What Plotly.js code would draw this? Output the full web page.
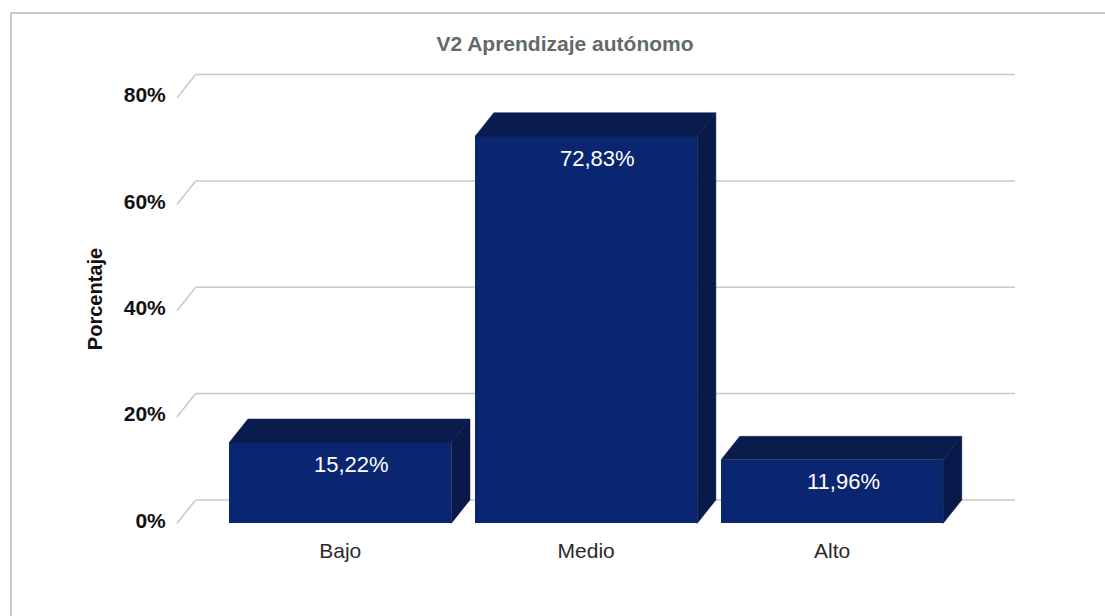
<!DOCTYPE html>
<html>
<head>
<meta charset="utf-8">
<script src="https://cdn.plot.ly/plotly-3.0.1.min.js"></script>
<style>
html,body{margin:0;padding:0;background:#fff;overflow:hidden;}
#frame{position:absolute;left:10px;top:12px;width:1200px;height:700px;border-left:2px solid #cbcbcb;border-top:2px solid #cbcbcb;box-sizing:border-box;pointer-events:none;}
#chart{position:absolute;left:0;top:0;width:1105px;height:616px;}
</style>
</head>
<body>
<div id="chart"></div>
<div id="frame"></div>
<script>
// ---- data ----
const categories = ['Bajo', 'Medio', 'Alto'];
const values = [15.22, 72.83, 11.96];
const yTicks = [0, 20, 40, 60, 80];
const yTickLabels = ['0%', '20%', '40%', '60%', '80%'];
const chartTitle = 'V2 Aprendizaje autónomo';
const yTitle = 'Porcentaje';

// ---- 3D look parameters (in axis units) ----
const barWidth = 0.903;
const depthX = 0.076;
const depthY = 4.42;
const frontLeft = -0.664;
const wallRight = 2.744;

const frontColor = '#0b2671';
const topColor = '#0a1c4d';
const sideColor = '#08194a';
const gridColor = '#c8c8c8';

const xs = categories.map((c, i) => i);
const traces = [];

// front faces
traces.push({
  type: 'bar', x: xs, y: values, width: barWidth,
  marker: {color: frontColor, line: {width: 0}},
  hoverinfo: 'skip', showlegend: false
});

// top and side faces
values.forEach((v, i) => {
  const x0 = xs[i] - barWidth / 2, x1 = xs[i] + barWidth / 2;
  traces.push({
    type: 'scatter', mode: 'lines', fill: 'toself', fillcolor: topColor,
    x: [x0, x0 + depthX, x1 + depthX, x1, x0],
    y: [v, v + depthY, v + depthY, v, v],
    line: {color: topColor, width: 0.5}, hoverinfo: 'skip', showlegend: false, cliponaxis: false
  });
  traces.push({
    type: 'scatter', mode: 'lines', fill: 'toself', fillcolor: sideColor,
    x: [x1, x1 + depthX, x1 + depthX, x1, x1],
    y: [0, depthY, v + depthY, v, 0],
    line: {color: sideColor, width: 0.5}, hoverinfo: 'skip', showlegend: false, cliponaxis: false
  });
});

// back-wall gridlines (shapes, drawn below traces)
const shapes = [];
yTicks.forEach(t => {
  shapes.push({type: 'line', layer: 'below', xref: 'x', yref: 'y',
    x0: frontLeft, y0: t, x1: frontLeft + depthX, y1: t + depthY,
    line: {color: gridColor, width: 1.5}});
  shapes.push({type: 'line', layer: 'below', xref: 'x', yref: 'y',
    x0: frontLeft + depthX, y0: t + depthY, x1: wallRight, y1: t + depthY,
    line: {color: gridColor, width: 1.5}});
});

// data labels
const annotations = values.map((v, i) => ({
  x: xs[i] + depthX / 2, y: v, xref: 'x', yref: 'y',
  text: v.toFixed(2).replace('.', ',') + '%',
  showarrow: false, yanchor: 'middle', yshift: -22, xshift: 2,
  font: {family: 'Liberation Sans, Arial, sans-serif', size: 22, color: '#ffffff'}
}));

const layout = {
  width: 1105, height: 616,
  margin: {l: 175, r: 88, t: 73, b: 91},
  paper_bgcolor: 'rgba(0,0,0,0)', plot_bgcolor: 'rgba(0,0,0,0)',
  showlegend: false, hovermode: false,
  bargap: 0,
  title: {
    text: chartTitle, xref: 'container', yref: 'container',
    x: 565 / 1105, xanchor: 'center', y: 1 - 44 / 616, yanchor: 'middle',
    font: {family: 'Liberation Sans, Arial, sans-serif', size: 21, color: '#636a69', weight: 'bold'}
  },
  xaxis: {
    range: [-0.672, 2.752], showgrid: false, zeroline: false, showline: false,
    tickvals: xs, ticktext: categories,
    ticks: 'outside', ticklen: 7, tickcolor: 'rgba(0,0,0,0)',
    tickfont: {family: 'Liberation Sans, Arial, sans-serif', size: 21, color: '#2a2a2a'}
  },
  yaxis: {
    range: [-0.3, 84.72], showgrid: false, zeroline: false, showline: false,
    tickvals: yTicks, ticktext: yTickLabels,
    ticks: 'outside', ticklen: 4, tickcolor: 'rgba(0,0,0,0)',
    ticklabelshift: -3,
    tickfont: {family: 'Liberation Sans, Arial, sans-serif', size: 21, color: '#111111', weight: 'bold'},
    title: {text: yTitle, standoff: 15,
      font: {family: 'Liberation Sans, Arial, sans-serif', size: 20, color: '#111111', weight: 'bold'}}
  },
  shapes: shapes,
  annotations: annotations
};

Plotly.newPlot('chart', traces, layout, {staticPlot: true, displayModeBar: false});
</script>
</body>
</html>
